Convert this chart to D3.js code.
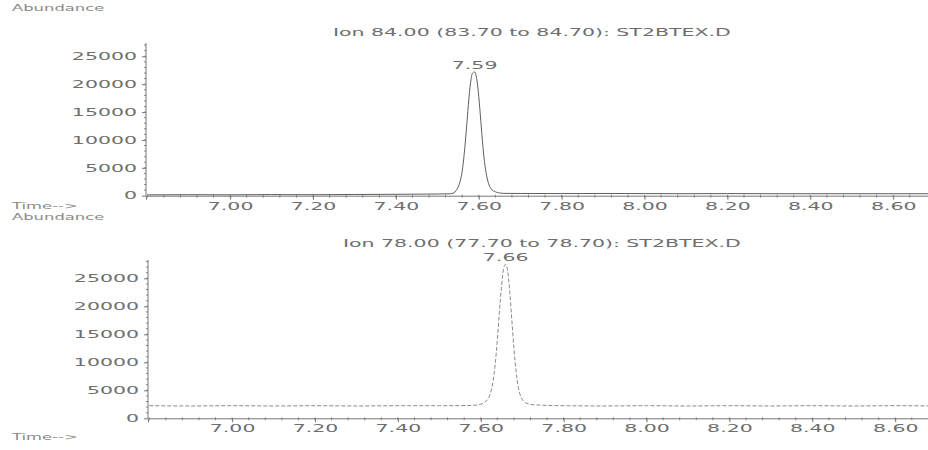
<!DOCTYPE html>
<html>
<head>
<meta charset="utf-8">
<script src="https://cdn.jsdelivr.net/npm/d3@7"></script>
<style>
  body { margin: 0; background: #fff; }
  svg text { font-family: "DejaVu Sans", sans-serif; font-size: 10px; fill: #6e6e6e; }
  svg text.small { font-size: 8px; fill: #8a8a8a; }
</style>
</head>
<body>
<svg width="928" height="450"></svg>
<script>
// ion 84 trace (top)
var ion84Time = [6.80, 6.90, 7.00, 7.10, 7.20, 7.30, 7.40, 7.50, 7.53, 7.54, 7.545, 7.55, 7.555, 7.56, 7.565, 7.57, 7.575, 7.58, 7.585, 7.59, 7.595, 7.60, 7.605, 7.61, 7.615, 7.62, 7.625, 7.63, 7.64, 7.65, 7.66, 7.70, 7.80, 7.90, 8.00, 8.10, 8.20, 8.30, 8.40, 8.50, 8.60, 8.69];
var ion84Abund = [150, 180, 160, 200, 180, 220, 250, 300, 350, 500, 900, 1500, 2600, 4400, 7600, 11800, 16400, 20200, 22000, 22200, 21000, 17800, 13300, 8800, 5400, 3200, 1900, 1200, 700, 480, 420, 400, 380, 400, 380, 360, 380, 360, 350, 360, 350, 350];

// ion 78 trace (bottom)
var ion78Time = [6.80, 6.90, 7.00, 7.10, 7.20, 7.30, 7.40, 7.50, 7.58, 7.60, 7.61, 7.62, 7.625, 7.63, 7.635, 7.64, 7.645, 7.65, 7.655, 7.66, 7.665, 7.67, 7.675, 7.68, 7.685, 7.69, 7.695, 7.70, 7.71, 7.73, 7.80, 7.90, 8.00, 8.10, 8.20, 8.30, 8.40, 8.50, 8.60, 8.69];
var ion78Abund = [2250, 2200, 2250, 2200, 2250, 2200, 2250, 2250, 2300, 2500, 2900, 3800, 4900, 6800, 9800, 14000, 19000, 23500, 26700, 27500, 26300, 22500, 17500, 12500, 8500, 5800, 4200, 3400, 2700, 2400, 2250, 2200, 2250, 2200, 2250, 2200, 2250, 2200, 2250, 2200];

var xTicks = [7.00, 7.20, 7.40, 7.60, 7.80, 8.00, 8.20, 8.40, 8.60];
var yTicks = [0, 5000, 10000, 15000, 20000, 25000];

var panels = [
  { title: "Ion  84.00 (83.70 to 84.70): ST2BTEX.D", time: ion84Time, abund: ion84Abund, peak: "7.59",
    left: 146, top: 43, zeroY: 195.7, y25: 56.3, titleX: 333, titleY: 36, absY: 11, timeY: 209, dash: null, stroke: "#5e5e5e" },
  { title: "Ion  78.00 (77.70 to 78.70): ST2BTEX.D", time: ion78Time, abund: ion78Abund, peak: "7.66",
    left: 148, top: 260, zeroY: 418.3, y25: 278.3, titleX: 343, titleY: 247, absY: 220, timeY: 440, dash: "4,2", stroke: "#8a8a8a" }
];

var SX = 2.05;
var svg = d3.select("svg");

function stretch(sel) {
  sel.each(function() {
    var t = d3.select(this);
    var x = +t.attr("x") || 0;
    t.attr("x", x / SX).attr("transform", "scale(" + SX + ",1)");
  });
}

function label(g, txt, x, y, anchor) {
  return g.append("text")
    .attr("transform", "translate(" + x + "," + y + ") scale(" + SX + ",1)")
    .attr("text-anchor", anchor || "start")
    .text(txt);
}

panels.forEach(function(p) {
  var g = svg.append("g");

  var x = d3.scaleLinear().domain([6.797, 8.684]).range([p.left, p.left + 782]);
  var y = d3.scaleLinear().domain([0, 25000]).range([p.zeroY, p.y25]);
  var yTop = y.invert(p.top);

  // minor ticks
  var yMinor = d3.range(1000, yTop, 1000);
  g.append("g").selectAll("line").data(yMinor).enter().append("line")
    .attr("x1", p.left - 2).attr("x2", p.left)
    .attr("y1", function(d) { return y(d); }).attr("y2", function(d) { return y(d); })
    .attr("stroke", "#888");
  var xMinor = d3.range(6.80, 8.68, 0.04);
  g.append("g").selectAll("line").data(xMinor).enter().append("line")
    .attr("x1", function(d) { return x(d); }).attr("x2", function(d) { return x(d); })
    .attr("y1", p.zeroY - 1).attr("y2", p.zeroY + 2)
    .attr("stroke", "#888");

  var yAxis = g.append("g")
    .attr("transform", "translate(" + p.left + ",0)")
    .call(d3.axisLeft(y).tickValues(yTicks).tickFormat(d3.format("d")).tickSize(4).tickPadding(5));
  yAxis.select(".domain").attr("d", "M0," + p.top + "V" + p.zeroY);
  yAxis.selectAll("line, path").attr("stroke", "#777");
  yAxis.selectAll("text").attr("font-size", null).attr("font-family", null);
  stretch(yAxis.selectAll("text"));

  var xAxis = g.append("g")
    .attr("transform", "translate(0," + p.zeroY + ")")
    .call(d3.axisBottom(x).tickValues(xTicks).tickFormat(d3.format(".2f")).tickSize(4).tickPadding(3));
  xAxis.selectAll("line, path").attr("stroke", "#777");
  xAxis.selectAll("text").attr("font-size", null).attr("font-family", null);
  stretch(xAxis.selectAll("text"));

  var pts = p.time.map(function(t, i) { return [t, p.abund[i]]; });
  var line = d3.line()
    .x(function(d) { return x(d[0]); })
    .y(function(d) { return y(d[1]); })
    .curve(d3.curveMonotoneX);
  g.append("path").datum(pts)
    .attr("d", line)
    .attr("fill", "none")
    .attr("stroke", p.stroke)
    .attr("stroke-width", 1)
    .attr("stroke-dasharray", p.dash);

  var top = pts.reduce(function(a, b) { return b[1] > a[1] ? b : a; });
  label(g, p.peak, x(+p.peak), y(top[1]) - 3, "middle");

  label(g, p.title, p.titleX, p.titleY, "start");
  label(g, "Abundance", 12, p.absY, "start").attr("class", "small");
  label(g, "Time-->", 12, p.timeY, "start").attr("class", "small");
});
</script>
</body>
</html>
